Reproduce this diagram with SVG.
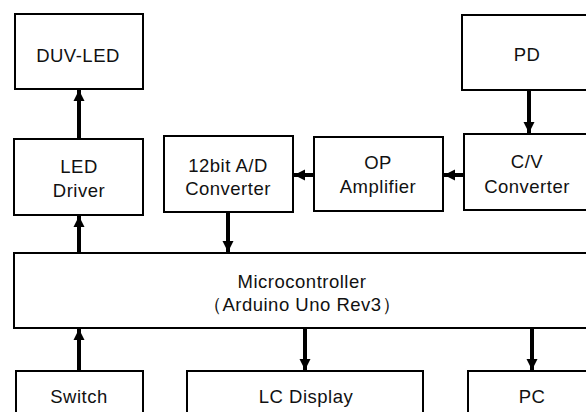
<svg xmlns="http://www.w3.org/2000/svg" width="586" height="412" viewBox="0 0 586 412">
<defs>
<style>
.box{fill:#fff;stroke:#000;stroke-width:2}
text{font-family:"Liberation Sans",Arial,sans-serif;font-size:18.5px;fill:#111;text-anchor:middle;letter-spacing:0.5px}
.con line{stroke:#000;stroke-width:4;marker-end:url(#ah)}
</style>
<marker id="ah" markerUnits="userSpaceOnUse" markerWidth="12" markerHeight="12" viewBox="0 0 12 12" refX="11" refY="6" orient="auto">
<path d="M0,0.5 L11,6 L0,11.5 Z" fill="#000"/>
</marker>
</defs>
<rect width="586" height="412" fill="#fff"/>
<g id="duv-led"><rect class="box" x="15" y="14" width="128" height="75"/><text x="78" y="62">DUV-LED</text></g>
<g id="pd"><rect class="box" x="462" y="15" width="140" height="75"/><text x="527" y="61">PD</text></g>
<g id="led-driver"><rect class="box" x="14" y="139" width="129" height="76"/><text x="79" y="173">LED</text><text x="79" y="197">Driver</text></g>
<g id="ad"><rect class="box" x="164" y="136" width="129" height="76"/><text x="228" y="172">12bit A/D</text><text x="228" y="195">Converter</text></g>
<g id="op"><rect class="box" x="314" y="137" width="129" height="74"/><text x="378" y="169">OP</text><text x="378" y="193">Amplifier</text></g>
<g id="cv"><rect class="box" x="464" y="134" width="140" height="76"/><text x="527" y="168">C/V</text><text x="527" y="193">Converter</text></g>
<g id="mcu"><rect class="box" x="14" y="253" width="590" height="75"/><text x="302" y="288">Microcontroller</text><text x="302" y="311">（Arduino Uno Rev3）</text></g>
<g id="switch"><rect class="box" x="16" y="371" width="127" height="60"/><text x="79" y="403">Switch</text></g>
<g id="lcd"><rect class="box" x="187" y="371" width="236" height="60"/><text x="306" y="403">LC Display</text></g>
<g id="pc"><rect class="box" x="468" y="371" width="140" height="60"/><text x="532" y="403">PC</text></g>
<g class="con" id="connectors">
<line x1="79" y1="138" x2="79" y2="90"/>
<line x1="79" y1="252" x2="79" y2="216"/>
<line x1="79" y1="370" x2="79" y2="329"/>
<line x1="228" y1="213" x2="228" y2="252"/>
<line x1="529" y1="91" x2="529" y2="133"/>
<line x1="463" y1="175" x2="444" y2="175"/>
<line x1="313" y1="175" x2="294" y2="175"/>
<line x1="305" y1="329" x2="305" y2="370"/>
<line x1="532" y1="329" x2="532" y2="370"/>
</g>
</svg>
